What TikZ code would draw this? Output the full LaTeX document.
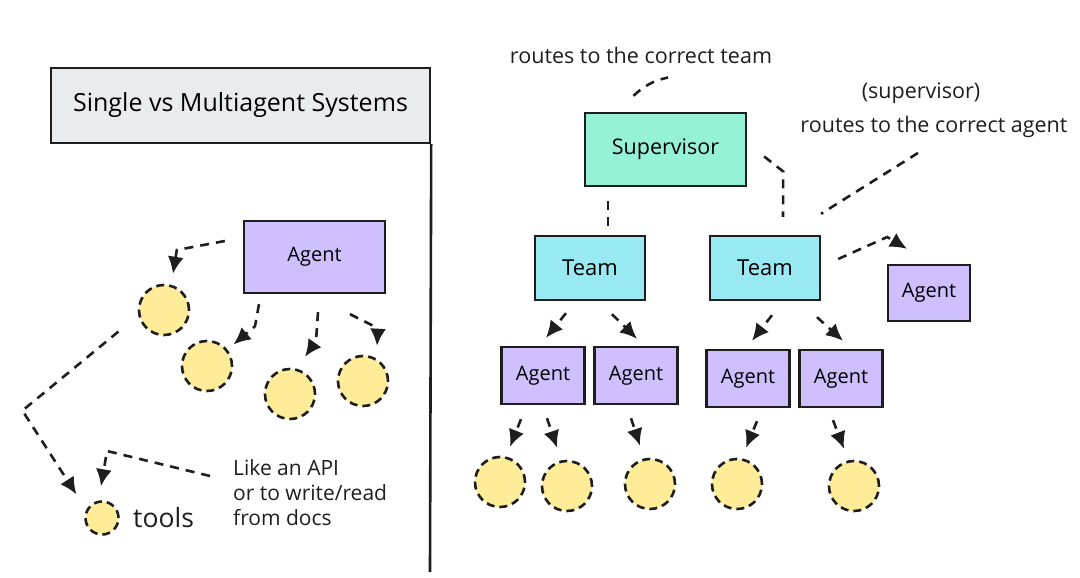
\documentclass[tikz,border=0pt]{standalone}
\usepackage{fontspec}
\setmainfont{Open Sans}
\usetikzlibrary{arrows.meta,positioning}
\definecolor{ink}{HTML}{1E1E1E}
\definecolor{boxgray}{HTML}{E9ECEF}
\definecolor{agentviolet}{HTML}{D0BFFF}
\definecolor{teamcyan}{HTML}{99E9F2}
\definecolor{supmint}{HTML}{96F2D7}
\definecolor{toolyellow}{HTML}{FFEC99}
\begin{document}
\begin{tikzpicture}[
x=1pt, y=1pt,
titlenode/.style={rectangle, draw=ink, line width=2.4pt, fill=boxgray, minimum width=379pt, minimum height=75pt, inner sep=0pt, font=\fontsize{25}{30}\selectfont},
agentnode/.style={rectangle, draw=ink, line width=2.4pt, fill=agentviolet, inner sep=0pt, font=\fontsize{20}{24}\selectfont},
teamnode/.style={rectangle, draw=ink, line width=2.4pt, fill=teamcyan, minimum width=110pt, minimum height=64pt, inner sep=0pt, font=\fontsize{22}{26}\selectfont},
supnode/.style={rectangle, draw=ink, line width=2.4pt, fill=supmint, minimum width=161pt, minimum height=73pt, inner sep=0pt, font=\fontsize{21.5}{26}\selectfont},
toolnode/.style={circle, draw=ink, fill=toolyellow, line width=2.6pt, dash pattern=on 8pt off 5pt, minimum size=50pt, inner sep=0pt},
note/.style={inner sep=0pt, text=ink, font=\fontsize{21.5}{26}\selectfont},
link/.style={draw=ink, line width=2.6pt, dash pattern=on 9pt off 7pt},
arrowlink/.style={link, -{Latex[length=17pt,width=16pt]}},
]
\useasboundingbox (0,0) rectangle (1080,-578);

% single agent
\node[titlenode]                                  (title) at (240.5,-105.5) {Single vs Multiagent Systems};
\coordinate (split) at (430,-572);
\draw[ink, line width=2.6pt] (title.south east) -- (split);

\node[agentnode, minimum width=141pt, minimum height=72pt] (ag) at (314.5,-257) {Agent};
\node[toolnode]           (t1)     at (164,-310) {};
\node[toolnode]           (t2)     at (207,-366) {};
\node[toolnode]           (t3)     at (290,-394) {};
\node[toolnode]           (t4)     at (363,-381) {};
\node[toolnode, minimum size=33pt] (lt) at (102,-518) {};
\node[note, anchor=west, font=\fontsize{26.5}{30}\selectfont] (ltlabel) at (133,-518) {tools};
\node[note, anchor=west, align=left, font=\fontsize{21}{25}\selectfont] (apinote) at (233,-493) {Like an API\\or to write/read\\from docs};

\draw[arrowlink] ([xshift=-18pt,yshift=16pt]ag.west) -- ++(-48,-9) -- ([xshift=9pt,yshift=10pt]t1.north);
\draw[arrowlink] ([xshift=-55.5pt,yshift=-10pt]ag.south) -- ++(-4,-22) -- ([xshift=8pt,yshift=3pt]t2.north east);
\draw[arrowlink] ([xshift=3.5pt,yshift=-18pt]ag.south) -- ++(-2,-29) -- ([xshift=15pt,yshift=11pt]t3.north);
\draw[arrowlink] ([xshift=35.5pt,yshift=-20pt]ag.south) -- ++(28,-14) -- ([xshift=14pt,yshift=9pt]t4.north);
\draw[arrowlink] ([xshift=-27pt,yshift=-3pt]t1.south west) -- ++(-96,-79) -- ([xshift=-13pt,yshift=11pt]lt.north west);
\draw[arrowlink] ([xshift=-23pt,yshift=17pt]apinote.west) -- ++(-103,25) -- ([xshift=-1pt,yshift=14pt]lt.north);

% multiagent
\node[note]               (teamnote)  at (641,-55)  {routes to the correct team};
\node[note]               (supnote)   at (921,-93)  {(supervisor)};
\node[note]               (agentnote) at (934,-127) {routes to the correct agent};

\node[supnode]            (sup)    at (665.5,-149.5) {Supervisor};
\node[teamnode]           (tmL)    at (590,-268) {Team};
\node[teamnode]           (tmR)    at (765,-268) {Team};
\node[agentnode, minimum width=82pt, minimum height=56pt] (agR) at (929,-293) {Agent};

\node[agentnode, minimum width=83pt, minimum height=57pt] (aA) at (543,-375.5) {Agent};
\node[agentnode, minimum width=83pt, minimum height=57pt] (aB) at (636,-375.5) {Agent};
\node[agentnode, minimum width=83pt, minimum height=57pt] (aC) at (748,-378.5) {Agent};
\node[agentnode, minimum width=83pt, minimum height=57pt] (aD) at (841,-378.5) {Agent};

\node[toolnode]           (c1)     at (500,-482) {};
\node[toolnode]           (c2)     at (567,-486) {};
\node[toolnode]           (c3)     at (650,-484) {};
\node[toolnode]           (c4)     at (737,-484) {};
\node[toolnode]           (c5)     at (854,-486) {};

\draw[link] ([xshift=-32pt,yshift=16pt]sup.north) to[bend left=15] ([xshift=27pt,yshift=-14pt]teamnote.south);
\draw[link] ([xshift=-57.5pt,yshift=-14pt]sup.south) -- ([xshift=18pt,yshift=9pt]tmL.north);
\draw[link] ([xshift=17pt,yshift=-7pt]sup.east) -- ++(19,-15) -- ([xshift=18pt,yshift=18pt]tmR.north);
\draw[link] ([xshift=-16pt,yshift=-15pt]agentnote.south) -- ([xshift=56pt,yshift=21pt]tmR.north);
\draw[arrowlink] ([xshift=17pt,yshift=9pt]tmR.east) -- ++(49,22) -- ([xshift=-22pt,yshift=15pt]agR.north);

\draw[arrowlink] ([xshift=-24pt,yshift=-12pt]tmL.south) -- ([xshift=3pt,yshift=8pt]aA.north);
\draw[arrowlink] ([xshift=22pt,yshift=-13pt]tmL.south) -- ([xshift=1pt,yshift=7pt]aB.north);
\draw[arrowlink] ([xshift=7pt,yshift=-14pt]tmR.south) -- ([xshift=4pt,yshift=8pt]aC.north);
\draw[arrowlink] ([xshift=52pt,yshift=-16pt]tmR.south) -- ([xshift=2pt,yshift=8pt]aD.north);

\draw[arrowlink] ([xshift=-22pt,yshift=-14pt]aA.south) -- ([xshift=10pt,yshift=9pt]c1.north);
\draw[arrowlink] ([xshift=4pt,yshift=-13pt]aA.south) -- ([xshift=-10pt,yshift=12pt]c2.north);
\draw[arrowlink] ([xshift=-5pt,yshift=-13pt]aB.south) -- ([xshift=-10pt,yshift=12pt]c3.north);
\draw[arrowlink] ([xshift=9pt,yshift=-13pt]aC.south) -- ([xshift=9pt,yshift=10pt]c4.north);
\draw[arrowlink] ([xshift=-8pt,yshift=-12pt]aD.south) -- ([xshift=-10pt,yshift=11pt]c5.north);

\end{tikzpicture}
\end{document}
